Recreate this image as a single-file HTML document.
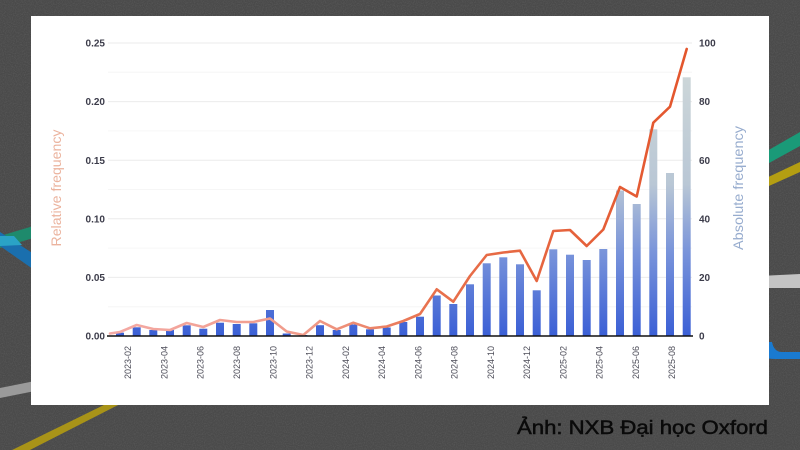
<!DOCTYPE html>
<html>
<head>
<meta charset="utf-8">
<style>
html,body{margin:0;padding:0;width:800px;height:450px;overflow:hidden;background:#4c4c4c;}
svg{display:block;}
</style>
</head>
<body>
<svg width="800" height="450" viewBox="0 0 800 450" xmlns="http://www.w3.org/2000/svg">
<defs>
  <linearGradient id="barg" gradientUnits="userSpaceOnUse" x1="0" y1="336" x2="0" y2="60">
    <stop offset="0" stop-color="#3a5fd5"/>
    <stop offset="0.3" stop-color="#7893da"/>
    <stop offset="0.55" stop-color="#b9c7d5"/>
    <stop offset="1" stop-color="#cfd8d9"/>
  </linearGradient>
  <linearGradient id="lineg" gradientUnits="userSpaceOnUse" x1="108" y1="0" x2="692" y2="0">
    <stop offset="0" stop-color="#f4aaa5"/>
    <stop offset="0.35" stop-color="#f09a88"/>
    <stop offset="0.55" stop-color="#e8714d"/>
    <stop offset="1" stop-color="#e3552c"/>
  </linearGradient>
  <filter id="noise" x="0" y="0" width="100%" height="100%">
    <feTurbulence type="fractalNoise" baseFrequency="0.9" numOctaves="2" seed="3"/>
    <feColorMatrix type="matrix" values="0 0 0 0 1  0 0 0 0 1  0 0 0 0 1  0 0 0 0.9 -0.35"/>
  </filter>
</defs>

<!-- chalkboard background -->
<rect x="0" y="0" width="800" height="450" fill="#4a4a4a"/>
<rect x="0" y="0" width="800" height="450" filter="url(#noise)" opacity="0.18"/>

<!-- left stripes -->
<polygon points="0,236 40,224 40,236 0,248" fill="#1e8a6c"/>
<polygon points="0,232 40,258 40,274 0,246" fill="#1a6fae"/>
<polygon points="0,236 14,236 22,245 0,246" fill="#2aa3c6"/>
<polygon points="0,388 40,380 40,390 0,398" fill="#9a9a9a"/>
<polygon points="8,452 110,402 124,402 26,452" fill="#a89318"/>

<!-- right stripes -->
<polygon points="760,155 800,132 800,146 760,168" fill="#1a9a78"/>
<polygon points="760,181 800,162 800,172 760,190" fill="#b49e12"/>
<path d="M760,276 L800,274 L800,288 L768,288 Q764,288 760,290 Z" fill="#c4c4c4"/>
<path d="M760,342 L772,342 Q774,352 782,352 L800,352 L800,359 L776,359 Q766,359 760,356 Z" fill="#1a7ad0"/>

<!-- caption -->
<text x="517" y="434" font-family="Liberation Sans, DejaVu Sans, sans-serif" font-size="19.5" fill="#0a0a0a" stroke="#0a0a0a" stroke-width="0.5" textLength="251" lengthAdjust="spacingAndGlyphs">Ảnh: NXB Đại học Oxford</text>

<!-- white panel -->
<rect x="31" y="16" width="738" height="389" fill="#ffffff"/>

<!-- gridlines -->
<g stroke-width="1">
  <line x1="108" x2="692" y1="306.7" y2="306.7" stroke="#f6f6f6"/>
  <line x1="108" x2="692" y1="248.1" y2="248.1" stroke="#f6f6f6"/>
  <line x1="108" x2="692" y1="189.5" y2="189.5" stroke="#f6f6f6"/>
  <line x1="108" x2="692" y1="130.9" y2="130.9" stroke="#f6f6f6"/>
  <line x1="108" x2="692" y1="72.3" y2="72.3" stroke="#f6f6f6"/>
  <line x1="108" x2="692" y1="277.4" y2="277.4" stroke="#ebebeb"/>
  <line x1="108" x2="692" y1="218.8" y2="218.8" stroke="#ebebeb"/>
  <line x1="108" x2="692" y1="160.2" y2="160.2" stroke="#ebebeb"/>
  <line x1="108" x2="692" y1="101.6" y2="101.6" stroke="#ebebeb"/>
  <line x1="108" x2="692" y1="43" y2="43" stroke="#ebebeb"/>
</g>

<!-- bars -->
<g fill="url(#barg)">
  <rect x="116" y="332.7" width="8" height="3.3"/>
  <rect x="132.7" y="327.3" width="8" height="8.7"/>
  <rect x="149.3" y="330" width="8" height="6"/>
  <rect x="166" y="330" width="8" height="6"/>
  <rect x="182.7" y="325.3" width="8" height="10.7"/>
  <rect x="199.3" y="328.7" width="8" height="7.3"/>
  <rect x="216" y="322.7" width="8" height="13.3"/>
  <rect x="232.7" y="324" width="8" height="12"/>
  <rect x="249.3" y="323.3" width="8" height="12.7"/>
  <rect x="266" y="310" width="8" height="26"/>
  <rect x="282.7" y="333.5" width="8" height="2.5"/>
  <rect x="299.3" y="335" width="8" height="1"/>
  <rect x="316" y="325.2" width="8" height="10.8"/>
  <rect x="332.7" y="330" width="8" height="6"/>
  <rect x="349.3" y="324.5" width="8" height="11.5"/>
  <rect x="366" y="329.3" width="8" height="6.7"/>
  <rect x="382.7" y="327.5" width="8" height="8.5"/>
  <rect x="399.3" y="322" width="8" height="14"/>
  <rect x="416" y="316.7" width="8" height="19.3"/>
  <rect x="432.7" y="295.5" width="8" height="40.5"/>
  <rect x="449.3" y="304" width="8" height="32"/>
  <rect x="466" y="284.3" width="8" height="51.7"/>
  <rect x="482.7" y="263.3" width="8" height="72.7"/>
  <rect x="499.3" y="257.3" width="8" height="78.7"/>
  <rect x="516" y="264.3" width="8" height="71.7"/>
  <rect x="532.7" y="290.3" width="8" height="45.7"/>
  <rect x="549.3" y="249.3" width="8" height="86.7"/>
  <rect x="566" y="254.7" width="8" height="81.3"/>
  <rect x="582.7" y="260" width="8" height="76"/>
  <rect x="599.3" y="249" width="8" height="87"/>
  <rect x="616" y="190.5" width="8" height="145.5"/>
  <rect x="632.7" y="204" width="8" height="132"/>
  <rect x="649.3" y="129.3" width="8" height="206.7"/>
  <rect x="666" y="173" width="8" height="163"/>
  <rect x="682.7" y="77.3" width="8" height="258.7"/>
</g>

<!-- line -->
<polyline fill="none" stroke="url(#lineg)" stroke-width="2.6" stroke-linejoin="round" stroke-linecap="round"
  points="110,333.5 120,332 136.7,325 153.3,329 170,330 186.7,323 203.3,327 220,320 236.7,322 253.3,322 270,318.5 286.7,331.5 303.3,335 320,321 336.7,329.3 353.3,322.7 370,328.3 386.7,326.5 403.3,321 420,314 436.7,289.3 453.3,301.7 470,276 486.7,255 503.3,252.5 520,250.7 536.7,281 553.3,231 570,230 586.7,246 603.3,229.5 620,187 636.7,196.5 653.3,122.7 670,106.7 686.7,49"/>

<!-- x axis line -->
<line x1="107" x2="693" y1="336" y2="336" stroke="#111" stroke-width="1.6"/>

<!-- left tick labels -->
<g font-family="Liberation Sans, sans-serif" font-size="10" font-weight="bold" fill="#3c3c4a" text-anchor="end">
  <text x="105" y="339.6">0.00</text>
  <text x="105" y="281">0.05</text>
  <text x="105" y="222.4">0.10</text>
  <text x="105" y="163.8">0.15</text>
  <text x="105" y="105.2">0.20</text>
  <text x="105" y="46.6">0.25</text>
</g>

<!-- right tick labels -->
<g font-family="Liberation Sans, sans-serif" font-size="10" font-weight="bold" fill="#3c3c4a" text-anchor="start">
  <text x="699" y="339.6">0</text>
  <text x="699" y="281">20</text>
  <text x="699" y="222.4">40</text>
  <text x="699" y="163.8">60</text>
  <text x="699" y="105.2">80</text>
  <text x="699" y="46.6">100</text>
</g>

<!-- axis titles -->
<text transform="translate(61,188) rotate(-90)" text-anchor="middle" font-family="Liberation Sans, sans-serif" font-size="14" fill="#ebb39e" textLength="117" lengthAdjust="spacingAndGlyphs">Relative frequency</text>
<text transform="translate(743,188) rotate(-90)" text-anchor="middle" font-family="Liberation Sans, sans-serif" font-size="14" fill="#97acce" textLength="124" lengthAdjust="spacingAndGlyphs">Absolute frequency</text>

<!-- x tick labels -->
<g font-family="Liberation Sans, sans-serif" font-size="9" fill="#4c4c58" text-anchor="end">
  <text transform="translate(131.2,346) rotate(-90)">2023-02</text>
  <text transform="translate(167.5,346) rotate(-90)">2023-04</text>
  <text transform="translate(203.7,346) rotate(-90)">2023-06</text>
  <text transform="translate(240,346) rotate(-90)">2023-08</text>
  <text transform="translate(276.3,346) rotate(-90)">2023-10</text>
  <text transform="translate(312.6,346) rotate(-90)">2023-12</text>
  <text transform="translate(348.8,346) rotate(-90)">2024-02</text>
  <text transform="translate(385.1,346) rotate(-90)">2024-04</text>
  <text transform="translate(421.4,346) rotate(-90)">2024-06</text>
  <text transform="translate(457.6,346) rotate(-90)">2024-08</text>
  <text transform="translate(493.9,346) rotate(-90)">2024-10</text>
  <text transform="translate(530.2,346) rotate(-90)">2024-12</text>
  <text transform="translate(566.4,346) rotate(-90)">2025-02</text>
  <text transform="translate(602.7,346) rotate(-90)">2025-04</text>
  <text transform="translate(639,346) rotate(-90)">2025-06</text>
  <text transform="translate(675.2,346) rotate(-90)">2025-08</text>
</g>
</svg>
</body>
</html>
